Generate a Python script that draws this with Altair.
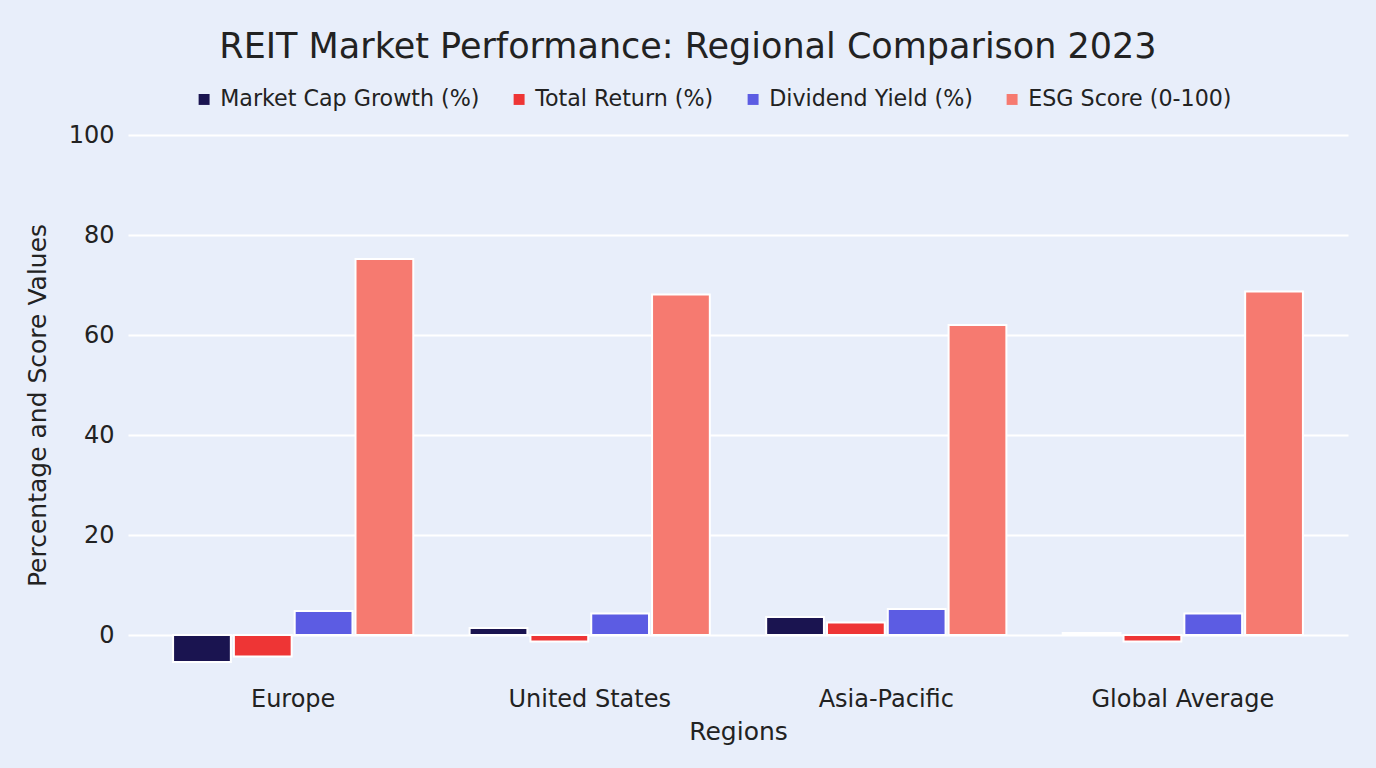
import altair as alt
import pandas as pd

regions = ["Europe", "United States", "Asia-Pacific", "Global Average"]
series = ["Market Cap Growth (%)", "Total Return (%)", "Dividend Yield (%)", "ESG Score (0-100)"]
market_cap_growth = [-5.4, 1.4, 3.6, 0.4]
total_return = [-4.3, -1.3, 2.5, -1.3]
dividend_yield = [4.8, 4.3, 5.2, 4.3]
esg_score = [75.2, 68.1, 62.0, 68.7]
colors = ["#1a1450", "#ee3535", "#5c5ce3", "#f67a70"]

rows = []
for name, vals in zip(series, [market_cap_growth, total_return, dividend_yield, esg_score]):
    for r, v in zip(regions, vals):
        rows.append({"Region": r, "Metric": name, "Value": v})
df = pd.DataFrame(rows)

font = "DejaVu Sans"

chart = alt.Chart(df).mark_bar(stroke="white", strokeWidth=2).encode(
    x=alt.X("Region:N", sort=regions,
            scale=alt.Scale(paddingInner=0.19, paddingOuter=0.152),
            axis=alt.Axis(title="Regions", labelAngle=0, labelFontSize=24, titleFontSize=25,
                          labelPadding=12, titlePadding=8, ticks=False, domain=False,
                          labelColor="#222222", titleColor="#222222", titleFontWeight="normal",
                          labelFont=font, titleFont=font, grid=False, labelLimit=0)),
    xOffset=alt.XOffset("Metric:N", sort=series, scale=alt.Scale(paddingInner=0.05)),
    y=alt.Y("Value:Q", scale=alt.Scale(domain=[-8, 100], nice=False, zero=False),
            axis=alt.Axis(title="Percentage and Score Values", values=[0, 20, 40, 60, 80, 100],
                          labelFontSize=24, titleFontSize=25, labelPadding=14, titlePadding=18,
                          ticks=False, domain=False, gridColor="white", gridWidth=2,
                          labelColor="#222222", titleColor="#222222", titleFontWeight="normal",
                          labelFont=font, titleFont=font)),
    color=alt.Color("Metric:N", sort=series,
                    scale=alt.Scale(domain=series, range=colors),
                    legend=alt.Legend(title=None, orient="none", direction="horizontal",
                                      legendX=65, legendY=-47, symbolType="square",
                                      symbolSize=120, symbolStrokeWidth=0, labelFontSize=22.2,
                                      labelFont=font, labelColor="#222222", columnPadding=28,
                                      labelOffset=5, labelLimit=0)),
).properties(
    width=1220, height=540,
    title=alt.TitleParams("REIT Market Performance: Regional Comparison 2023", fontSize=35,
                          font=font, fontWeight="normal", color="#222222", anchor="middle",
                          dx=-50, offset=23),
    autosize=alt.AutoSizeParams(type="none"),
    padding={"left": 128, "top": 135, "right": 28, "bottom": 93},
    background="#e8eefa",
).configure_view(stroke=None)

chart.save("out.html", embed_options={"renderer": "svg", "actions": False})
